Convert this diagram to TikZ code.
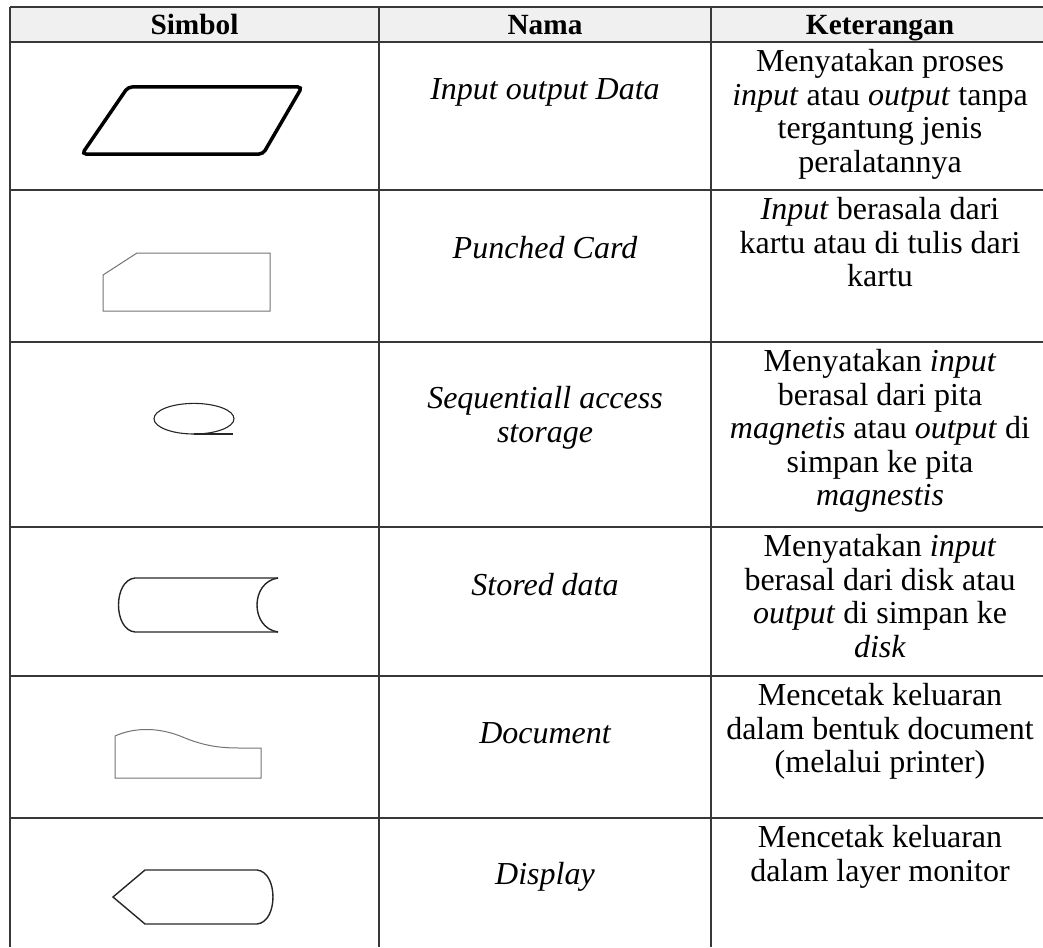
\documentclass[tikz,border=0pt]{standalone}
\usepackage{fontspec}
\setmainfont{Liberation Serif}
\begin{document}
\begin{tikzpicture}[x=1pt,y=-1pt,
  grid/.style={draw=black!78, line width=1.5pt},
  body/.style={font=\fontsize{32}{33.5}\selectfont, inner sep=0pt, align=center},
  multi/.style={body, anchor=north, execute at begin node=\strut},
  single/.style={body, anchor=base},
  nama/.style={font=\fontsize{32}{33.5}\selectfont\itshape},
  head/.style={font=\fontsize{29.3}{33}\selectfont\bfseries, inner sep=0pt, anchor=base},
  thinshape/.style={draw=black!55, line width=1pt},
  darkshape/.style={draw=black!85, line width=1.4pt}]
\useasboundingbox (0,0) rectangle (1043,947);
% header background
\fill[gray!12] (10,7) rectangle (1043,42);
% grid
\foreach \yy in {7,42,190,342,527,676,818}{\draw[grid] (10,\yy) -- (1043,\yy);}
\foreach \xx in {10,379,711}{\draw[grid] (\xx,7) -- (\xx,947);}
% header
\node[head] (hs) at (194.5,35) {Simbol};
\node[head] (hn) at (545,35) {Nama};
\node[head] (hk) at (880,35) {Keterangan};
% names
\node[single,nama] (n1) at (545,100) {Input output Data};
\node[single,nama] (n2) at (545,258) {Punched Card};
\node[multi,nama] (n3) at (545,386.5) {Sequentiall access\\storage};
\node[single,nama] (n4) at (545,595) {Stored data};
\node[single,nama] (n5) at (545,743) {Document};
\node[single,nama] (n6) at (545,884) {Display};
% descriptions
\node[multi] (k1) at (880,49.5) {Menyatakan proses\\\textit{input} atau \textit{output} tanpa\\tergantung jenis\\peralatannya};
\node[multi] (k2) at (880,197.5) {\textit{Input} berasala dari\\kartu atau di tulis dari\\kartu};
\node[multi] (k3) at (880,349.5) {Menyatakan \textit{input}\\berasal dari pita\\\textit{magnetis} atau \textit{output} di\\simpan ke pita\\\textit{magnestis}};
\node[multi] (k4) at (880,534.5) {Menyatakan \textit{input}\\berasal dari disk atau\\\textit{output} di simpan ke\\\textit{disk}};
\node[multi] (k5) at (880,683.5) {Mencetak keluaran\\dalam bentuk document\\(melalui printer)};
\node[multi] (k6) at (880,825.5) {Mencetak keluaran\\dalam layer monitor};
% symbols
\draw[black, line width=3.5pt, rounded corners=4pt] (128,87) -- (302,87) -- (263,154) -- (82,154) -- cycle;
\draw[thinshape] (137,253) -- (270,253) -- (270,311) -- (103,311) -- (103,275) -- cycle;
\draw[darkshape, line width=1.1pt] (194,418.7) ellipse [x radius=40, y radius=15.3];
\draw[darkshape, line width=1.1pt] (194,434) -- (233,434);
\draw[darkshape] (278,578) -- (135,578) .. controls (113,580) and (113,630) .. (135,632) -- (278,632);
\draw[darkshape] (278,578) .. controls (250,582) and (250,628) .. (278,632);
\draw[thinshape] (115,736) .. controls (135,727) and (160,727) .. (185,738) .. controls (205,746) and (220,748) .. (240,748) -- (261,748) -- (261,778) -- (115,778) -- cycle;
\draw[darkshape] (145,870) -- (257,870) .. controls (278.3,872) and (278.3,922) .. (257,924) -- (145,924) -- (113,897) -- cycle;
\end{tikzpicture}
\end{document}
